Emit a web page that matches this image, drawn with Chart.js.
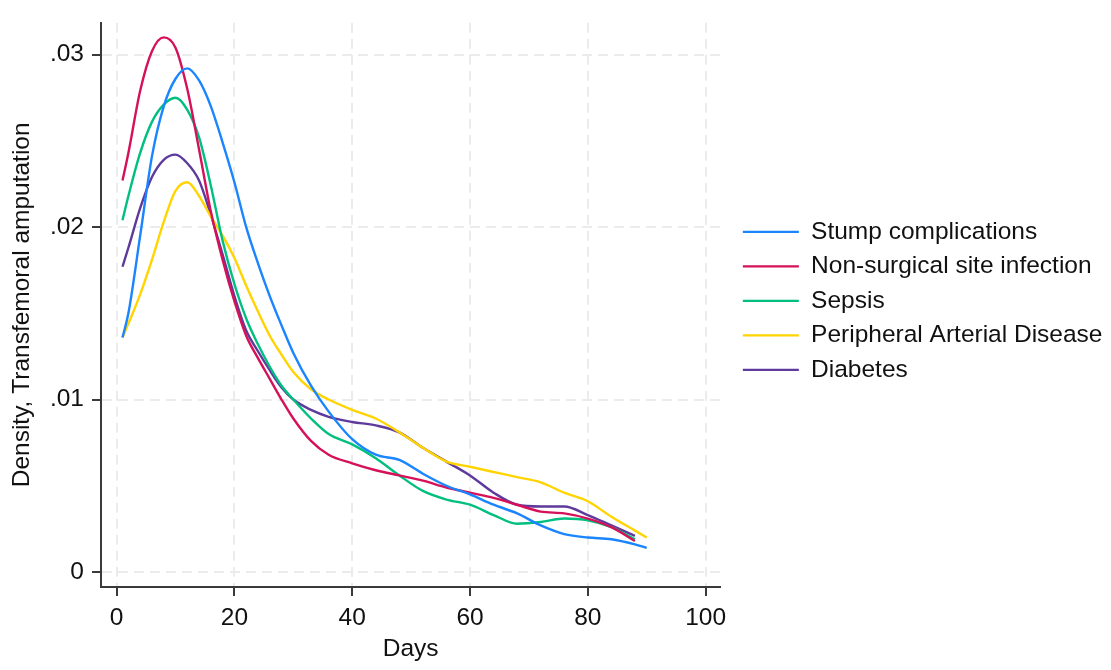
<!DOCTYPE html>
<html lang=en>
<head>
    <meta charset=UTF-8>
    <title>Density, Transfemoral amputation</title>
    <style>
        * {
            margin: 0;
            padding: 0;
        }

        body {
            background: #fff;
        }
    </style>
</head>
<body>
    <canvas id="myChart" width="1111" height="670"></canvas>
    <script src="https://cdn.jsdelivr.net/npm/chart.js"></script>
    <script>
        // kernel density by days
        const days = [1, 2, 4, 6, 8, 10, 12, 14, 16, 18, 20, 22, 24, 26, 28, 30,
            33, 36, 40, 44, 48, 52, 56, 60, 64, 68, 72, 76, 80, 84, 88, 90];

        const stump = [.0136, .0150, .0195, .0241, .0270, .0286, .0292, .0285, .0270, .0249, .0226, .0200, .0179, .0160, .0143, .0127,
            .0108, .0093, .0077, .0068, .0065, .0057, .0050, .0045, .0039, .0034, .0027, .0022, .0020, .0019, .0016, .0014];
        const nonSurgical = [.0227, .0243, .0279, .0302, .0310, .0304, .0280, .0245, .0209, .0181, .0157, .0137, .0124, .0112, .0100, .0089,
            .0076, .0068, .0063, .0059, .0056, .0053, .0049, .0046, .0043, .0039, .0035, .0034, .0031, .0026, .0018, null];
        const sepsis = [.0204, .0218, .0243, .0261, .0271, .0275, .0268, .0252, .0224, .0192, .0167, .0147, .0132, .0119, .0108, .0100,
            .0089, .0080, .0074, .0066, .0056, .0047, .0042, .0039, .0033, .0028, .0029, .0031, .0030, .0026, .0019, null];
        const pad = [.0136, .0144, .0161, .0181, .0203, .0221, .0226, .0218, .0206, .0195, .0182, .0166, .0151, .0137, .0126, .0116,
            .0106, .0100, .0094, .0089, .0081, .0072, .0064, .0061, .0058, .0055, .0052, .0046, .0041, .0032, .0024, .0020];
        const diabetes = [.0177, .0188, .0211, .0229, .0239, .0242, .0237, .0227, .0207, .0184, .0160, .0140, .0128, .0117, .0107, .0100,
            .0094, .0090, .0087, .0085, .0081, .0072, .0064, .0056, .0046, .0039, .0038, .0038, .0033, .0027, .0021, null];

        const seriesNames = ['Stump complications', 'Non-surgical site infection', 'Sepsis',
            'Peripheral Arterial Disease', 'Diabetes'];
        const seriesValues = [stump, nonSurgical, sepsis, pad, diabetes];
        const colors = ['#1a85ff', '#d41159', '#00bf7f', '#ffd400', '#5d3a9b'];

        const xTicks = [0, 20, 40, 60, 80, 100];
        const yTicks = [0, .01, .02, .03];
        const yTickLabels = ['0', '.01', '.02', '.03'];

        const font = "'Liberation Sans', Arial, sans-serif";
        const fontSize = 24.5;
        const gridColor = '#ebebeb';
        const axisColor = '#3a3a3a';

        // put the key just right of the plot region, centred on it
        const legendBeside = {
            id: 'legendBeside',
            afterLayout(chart) {
                const lg = chart.legend;
                const area = chart.chartArea;
                const w = lg.right - lg.left;
                lg.left = area.right + 12.5;
                lg.right = lg.left + w;
                lg.top = area.top - 8;
                lg.bottom = area.bottom;
            }
        };

        const datasets = seriesNames.map((name, i) => ({
            label: name,
            data: days.map((d, j) => ({ x: d, y: seriesValues[i][j] })),
            borderColor: colors[i],
            backgroundColor: colors[i],
            borderWidth: 2.4,
            pointRadius: 0,
            fill: false,
            cubicInterpolationMode: 'monotone'
        }));

        new Chart(document.getElementById('myChart'), {
            type: 'line',
            data: { datasets },
            plugins: [legendBeside],
            options: {
                responsive: false,
                animation: false,
                layout: { padding: { top: 12, right: 11, bottom: 0, left: 0 } },
                plugins: {
                    tooltip: { enabled: false },
                    legend: {
                        position: 'right',
                        maxWidth: 420,
                        labels: {
                            boxWidth: 56,
                            boxHeight: 0,
                            padding: 10,
                            color: '#111',
                            font: { family: font, size: fontSize }
                        }
                    }
                },
                scales: {
                    x: {
                        type: 'linear',
                        min: -2.65,
                        max: 102.5,
                        afterBuildTicks: s => { s.ticks = xTicks.map(v => ({ value: v })); },
                        afterFit: s => { s.height = 83; },
                        ticks: {
                            color: '#111',
                            font: { family: font, size: fontSize },
                            padding: 8,
                            maxRotation: 0,
                            autoSkip: false
                        },
                        grid: {
                            color: gridColor,
                            lineWidth: 2,
                            tickLength: 9,
                            tickColor: axisColor,
                            tickWidth: 2,
                            tickBorderDash: []
                        },
                        border: { display: true, color: axisColor, width: 2, dash: [10, 6] },
                        title: {
                            display: true,
                            text: 'Days',
                            color: '#111',
                            font: { family: font, size: fontSize },
                            padding: { top: 0, bottom: 6 }
                        }
                    },
                    y: {
                        type: 'linear',
                        min: -0.00087,
                        max: 0.03185,
                        afterBuildTicks: s => { s.ticks = yTicks.map(v => ({ value: v })); },
                        afterFit: s => { s.width = 101; },
                        ticks: {
                            color: '#111',
                            font: { family: font, size: fontSize },
                            padding: 8,
                            callback: (v, i) => yTickLabels[i]
                        },
                        grid: {
                            color: gridColor,
                            lineWidth: 2,
                            tickLength: 9,
                            tickColor: axisColor,
                            tickWidth: 2,
                            tickBorderDash: []
                        },
                        border: { display: true, color: axisColor, width: 2, dash: [10, 6] },
                        title: {
                            display: true,
                            text: 'Density, Transfemoral amputation',
                            color: '#111',
                            font: { family: font, size: fontSize },
                            padding: { top: 8, bottom: 0 }
                        }
                    }
                }
            }
        });
    </script>
</body>
</html>
